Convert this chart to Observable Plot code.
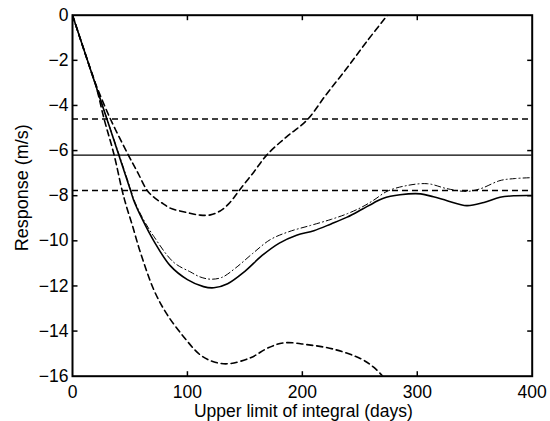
<!DOCTYPE html>
<html>
<head>
<meta charset="utf-8">
<script src="https://cdn.jsdelivr.net/npm/d3@7"></script>
<script src="https://cdn.jsdelivr.net/npm/@observablehq/plot@0.6"></script>
<style>
  html, body { margin: 0; padding: 0; background: #fff; }
  #chart { width: 550px; height: 421px; }
</style>
</head>
<body>
<div id="chart"></div>
<script>
// ---- data ----
const xTicks = [0, 100, 200, 300, 400];
const yTicks = [0, -2, -4, -6, -8, -10, -12, -14, -16];

const meanLevel = -6.2;     // solid horizontal line
const upperLevel = -4.6;    // dashed horizontal line
const lowerLevel = -7.77;   // dashed horizontal line

const centralDays = [0, 13, 26, 40, 50.5, 53.3, 60.6, 70.7, 85, 100, 114, 123, 135, 150, 165, 180, 195, 210, 225, 239, 252, 262, 270, 285, 303, 314, 326, 343, 358, 372, 385, 400];
const centralResp = [0, -2, -4, -6.15, -7.77, -8.21, -9.03, -10.0, -11.1, -11.72, -12.03, -12.08, -11.9, -11.35, -10.65, -10.1, -9.75, -9.55, -9.25, -8.95, -8.6, -8.32, -8.12, -7.96, -7.92, -8.05, -8.22, -8.44, -8.3, -8.07, -8.0, -7.99];

const altDays = [0, 13, 26, 40, 50.5, 53.3, 60.6, 70.7, 88, 103, 111, 120, 130, 142, 157, 172, 188, 207, 225, 239, 252, 262, 274, 291, 309, 326, 343, 355, 372, 385, 400];
const altResp = [0, -2, -4, -6.1, -7.7, -8.15, -8.95, -9.8, -10.95, -11.39, -11.6, -11.7, -11.62, -11.2, -10.55, -9.95, -9.6, -9.32, -9.05, -8.8, -8.5, -8.2, -7.8, -7.55, -7.47, -7.69, -7.81, -7.69, -7.33, -7.24, -7.2];

const upperDays = [0, 13, 19, 33, 48, 57, 65, 72, 79, 85, 100, 111, 120, 129, 137, 145, 157, 169, 186, 204, 221, 239, 256, 274];
const upperResp = [0, -2, -2.9, -4.6, -6.14, -7.0, -7.77, -8.12, -8.36, -8.55, -8.75, -8.86, -8.85, -8.66, -8.3, -7.77, -7.0, -6.2, -5.4, -4.65, -3.5, -2.33, -1.17, 0];

const lowerDays = [0, 13, 20, 27.5, 36, 43.2, 46.5, 52, 59, 71, 82, 97, 111, 122, 135, 155, 170, 184, 204, 227, 251, 262, 270];
const lowerResp = [0, -2, -3.05, -4.6, -6.15, -7.77, -8.4, -9.3, -10.5, -12.2, -13.24, -14.27, -15.05, -15.35, -15.45, -15.18, -14.75, -14.52, -14.6, -14.8, -15.23, -15.6, -16.0];

const toRows = (xs, ys) => xs.map((x, i) => ({x, y: ys[i]}));
const central = toRows(centralDays, centralResp);
const alt = toRows(altDays, altResp);
const upper = toRows(upperDays, upperResp);
const lower = toRows(lowerDays, lowerResp);

const W = 550, H = 421, mT = 14.7, mR = 18.3, mB = 45.3, mL = 72;
const xMin = xTicks[0], xMax = xTicks[xTicks.length - 1];
const yMax = yTicks[0], yMin = yTicks[yTicks.length - 1];
const xInner = xTicks.filter(d => d !== xMin && d !== xMax);
const yInner = yTicks.filter(d => d !== yMin && d !== yMax);

// inward tick length in pixels, expressed in data units of each scale
const tickPx = 5;
const tY = tickPx * (yMax - yMin) / (H - mT - mB);
const tX = tickPx * (xMax - xMin) / (W - mL - mR);

const font = "'Liberation Sans', Arial, Helvetica, sans-serif";
const tickStyle = {stroke: "black", strokeWidth: 1.5, strokeLinecap: "butt"};

const chart = Plot.plot({
  width: W,
  height: H,
  marginTop: mT,
  marginRight: mR,
  marginBottom: mB,
  marginLeft: mL,
  style: {fontFamily: font, fontSize: "17.5px", color: "black", background: "white", overflow: "visible"},
  x: {domain: [xMin, xMax]},
  y: {domain: [yMin, yMax]},
  marks: [
    // reference levels
    Plot.ruleY([upperLevel], {stroke: "black", strokeWidth: 1.5, strokeDasharray: "6,4"}),
    Plot.ruleY([meanLevel], {stroke: "black", strokeWidth: 1.4}),
    Plot.ruleY([lowerLevel], {stroke: "black", strokeWidth: 1.5, strokeDasharray: "6,4"}),
    // curves
    Plot.line(upper, {x: "x", y: "y", curve: "catmull-rom", stroke: "black", strokeWidth: 1.6, strokeDasharray: "6,4", clip: true}),
    Plot.line(lower, {x: "x", y: "y", curve: "catmull-rom", stroke: "black", strokeWidth: 1.6, strokeDasharray: "6,4", clip: true}),
    Plot.line(alt, {x: "x", y: "y", curve: "catmull-rom", stroke: "black", strokeWidth: 1, strokeDasharray: "6,3,1,3", clip: true}),
    Plot.line(central, {x: "x", y: "y", curve: "catmull-rom", stroke: "black", strokeWidth: 1.6, clip: true}),
    // inward ticks on all four sides
    Plot.link(xInner, {x1: d => d, x2: d => d, y1: () => yMin, y2: () => yMin + tY, ...tickStyle}),
    Plot.link(xInner, {x1: d => d, x2: d => d, y1: () => yMax, y2: () => yMax - tY, ...tickStyle}),
    Plot.link(yInner, {y1: d => d, y2: d => d, x1: () => xMin, x2: () => xMin + tX, ...tickStyle}),
    Plot.link(yInner, {y1: d => d, y2: d => d, x1: () => xMax, x2: () => xMax - tX, ...tickStyle}),
    // tick labels
    Plot.axisX(xTicks, {anchor: "bottom", tickSize: 0, tickPadding: 9, label: null, fontSize: 17.5}),
    Plot.axisY(yTicks, {anchor: "left", tickSize: 0, tickPadding: 4, label: null, fontSize: 17.5}),
    // axis titles
    Plot.text(["Upper limit of integral (days)"], {frameAnchor: "bottom", dx: 1, dy: 35.3, lineAnchor: "middle", textAnchor: "middle", fontSize: 17.5, fill: "black"}),
    Plot.text(["Response (m/s)"], {frameAnchor: "left", rotate: -90, dx: -50.5, dy: -8, lineAnchor: "middle", textAnchor: "middle", fontSize: 18, fill: "black"}),
    Plot.frame({stroke: "black", strokeWidth: 2})
  ]
});
document.getElementById("chart").appendChild(chart);
</script>
</body>
</html>
